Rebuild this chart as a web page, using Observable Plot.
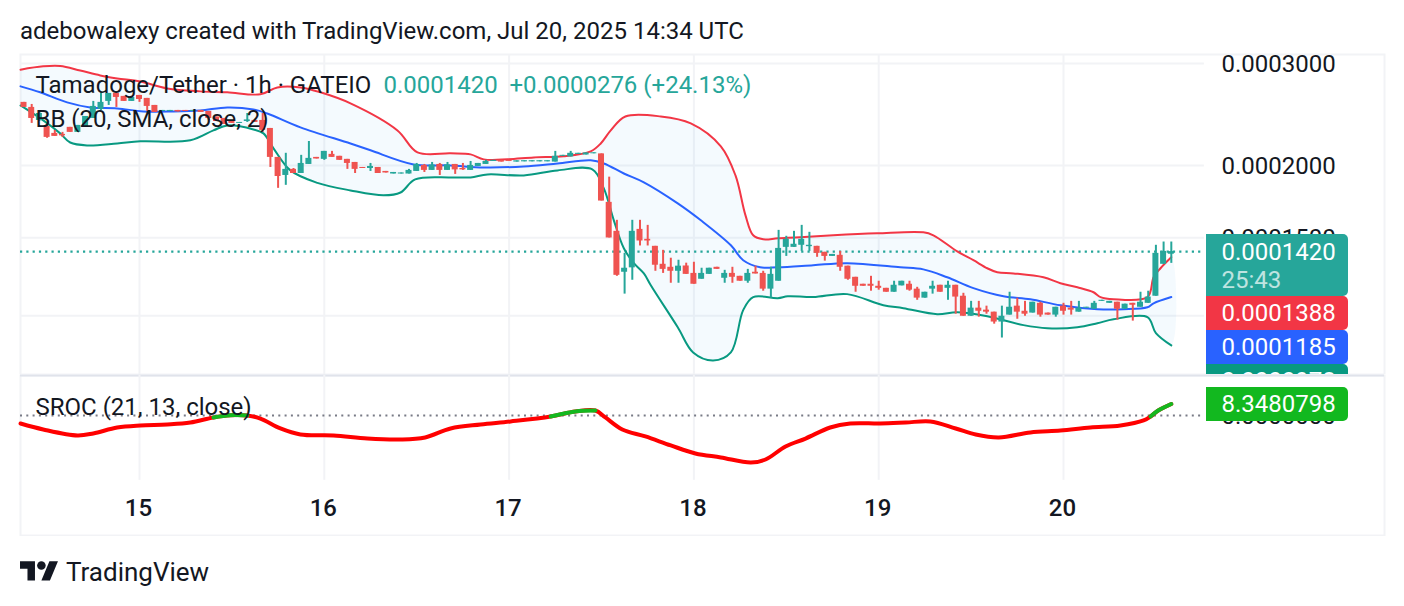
<!DOCTYPE html>
<html><head><meta charset="utf-8">
<script src="https://cdn.jsdelivr.net/npm/d3@7"></script>
<script src="https://cdn.jsdelivr.net/npm/@observablehq/plot@0.6"></script>
<style>
html,body{margin:0;padding:0;background:#fff;width:1404px;height:606px;overflow:hidden;font-family:Roboto,sans-serif;color:#131722}
.abs{position:absolute}
#title{left:20px;top:16px;font-size:24px;line-height:30px;white-space:nowrap}
#logo{left:20px;top:556.7px}
#brand{left:66px;top:556px;font-size:26px;line-height:32px;white-space:nowrap;color:#131722}
#clip{left:1206px;top:220px;width:142px;height:154px;overflow:hidden}
.badge{position:absolute;left:0;width:142px;color:#fff;font-size:24px;border-radius:0 5px 5px 0;box-sizing:border-box;padding-left:15.5px;white-space:nowrap}
.badge span{display:block;line-height:34px}
</style></head><body>
<div id="title" class="abs">adebowalexy created with TradingView.com, Jul 20, 2025 14:34 UTC</div>
<div id="price" class="abs" style="left:0;top:44px"></div>
<div id="sroc" class="abs" style="left:0;top:374px"></div>
<div id="clip" class="abs">
  <div class="badge" style="top:14px;height:62px;background:#26a69a"><span style="line-height:36px">0.0001420</span><span style="line-height:20px;opacity:.7">25:43</span></div>
  <div class="badge" style="top:76px;height:34px;background:#f23645"><span>0.0001388</span></div>
  <div class="badge" style="top:110px;height:34px;background:#2962ff"><span>0.0001185</span></div>
  <div class="badge" style="top:144px;height:34px;background:#089981"><span>0.0000978</span></div>
</div>
<div class="badge abs" style="left:1206px;top:387px;height:34px;background:#12b81f"><span>8.3480798</span></div>
<svg id="logo" class="abs" width="38.5" height="30" viewBox="0 0 36 28"><path fill="#131722" d="M14 22H7V11H0V4h14v18zM28 22h-8l7.5-18h8L28 22z"/><circle cx="20" cy="8" r="4" fill="#131722"/></svg>
<div id="brand" class="abs">TradingView</div>
<script>
// Prices are listed in units of 0.0000001. Candle n sits at firstHour + n, hours from Jul 15 00:00.
const unit = 1e-7;
const firstHour = -15;
const opens = [2570,2519,2392,2336,2272,2263,2327,2281,2327,2411,2499,2580,2663,2632,2580,2642,2611,2539,2479,2479,
2489,2489,2479,2489,2479,2425,2411,2382,2364,2382,2392,2392,2317,2065,1922,1969,1937,2008,2065,2049,
2090,2074,2049,2024,1984,1976,1984,1953,1933,1933,1933,1953,2000,1961,2008,1961,2008,1976,1961,1992,
2008,2032,2041,2041,2027,2029,2029,2029,2029,2027,2074,2069,2090,2085,2095,2094,1727,1539,1308,1331,
1551,1491,1450,1350,1334,1313,1341,1302,1272,1297,1334,1277,1302,1287,1262,1308,1302,1223,1262,1444,
1444,1456,1448,1450,1416,1393,1399,1340,1282,1247,1247,1237,1227,1208,1239,1247,1223,1180,1223,1242,
1227,1242,1189,1098,1134,1125,1116,1073,1103,1143,1120,1112,1156,1112,1103,1143,1134,1116,1134,1129,
1165,1156,1161,1129,1156,1138,1156,1189,1350,1405];
const closes = [2519,2411,2459,2236,2245,2250,2281,2345,2430,2529,2570,2663,2621,2580,2621,2600,2529,2469,2489,2489,
2474,2479,2489,2469,2411,2382,2354,2364,2373,2397,2373,2299,2065,1914,1969,1937,2016,2057,2052,2115,
2065,2041,2016,1969,1976,1992,1937,1941,1945,1941,1961,2008,1961,2004,1961,2004,1965,1965,2000,2016,
2032,2041,2027,2032,2037,2038,2038,2038,2038,2074,2082,2099,2099,2102,2103,1736,1499,1292,1329,1539,
1481,1481,1345,1323,1313,1340,1297,1247,1302,1329,1323,1302,1282,1262,1302,1299,1223,1297,1438,1491,
1462,1491,1456,1410,1393,1404,1334,1272,1237,1237,1237,1227,1208,1242,1262,1218,1180,1208,1237,1208,
1242,1185,1098,1134,1120,1116,1073,1098,1138,1116,1107,1161,1103,1103,1138,1120,1125,1134,1138,1156,
1170,1165,1129,1152,1147,1161,1185,1410,1421,1420];
const highs = [2570,2549,2479,2354,2299,2281,2327,2345,2430,2580,2670,2663,2663,2632,2621,2642,2611,2539,2489,2489,
2489,2489,2489,2489,2479,2425,2411,2382,2373,2459,2392,2459,2317,2065,2099,1976,2082,2200,2065,2115,
2115,2074,2049,2024,1984,2016,1984,1953,1945,1941,1969,2016,2008,2024,2016,2024,2008,2016,2032,2016,
2041,2041,2041,2041,2037,2038,2038,2038,2038,2115,2082,2115,2099,2102,2103,2094,1909,1608,1410,1608,
1608,1576,1450,1427,1383,1372,1356,1361,1329,1329,1334,1318,1334,1287,1323,1340,1313,1334,1545,1509,
1539,1576,1533,1450,1416,1404,1421,1340,1282,1247,1287,1262,1227,1262,1262,1262,1232,1208,1262,1242,
1262,1242,1203,1165,1165,1143,1116,1143,1208,1180,1165,1161,1161,1112,1138,1156,1165,1165,1138,1165,
1170,1165,1161,1152,1156,1208,1213,1456,1475,1475];
const lows = [2519,2364,2382,2228,2245,2236,2281,2281,2327,2411,2489,2539,2519,2580,2580,2570,2479,2469,2479,2479,
2474,2479,2479,2469,2392,2382,2354,2364,2364,2373,2373,2281,1984,1826,1848,1937,1937,2008,2052,2041,
2065,2041,1969,1937,1976,1953,1937,1941,1933,1933,1933,1953,1945,1961,1922,1961,1930,1961,1961,1992,
2008,2032,2027,2032,2027,2029,2029,2029,2029,2027,2074,2069,2090,2085,2095,1736,1499,1287,1199,1267,
1452,1452,1313,1302,1252,1252,1297,1247,1272,1297,1323,1252,1252,1262,1252,1299,1213,1180,1262,1393,
1444,1421,1421,1388,1367,1393,1313,1267,1208,1237,1213,1218,1208,1208,1239,1213,1170,1180,1199,1208,
1170,1107,1098,1098,1094,1107,1064,1007,1103,1085,1098,1112,1094,1103,1094,1103,1103,1116,1134,1129,
1165,1156,1081,1129,1077,1138,1156,1189,1350,1355];

const upperHours = [-15.45,-12.5,-10.3,-7.7,-5.1,-2.9,0.1,3.6,7.9,11.4,15.7,17.9,20.9,23.5,27.4,33.5,36.1,40.4,43,44.7,47.8,51.2,55.1,58.6,59.9,61.2,63.1,67.7,71.6,75.5,77.4,78.7,79.7,81,82.9,85.8,90.1,95.8,101.8,103.1,106.2,108.3,110.1,111.4,113.5,117.4,119.6,121.8,123.9,124.8,126.5,130.9,131.7,132.6,134];
const upperValues = [2927,2966,2970,2917,2861,2827,2792,2717,2685,2675,2654,2727,2727,2675,2560,2299,2107,2099,2090,2049,2049,2065,2074,2115,2183,2299,2430,2430,2364,2158,1922,1640,1515,1491,1497,1503,1515,1527,1533,1515,1421,1372,1329,1308,1302,1282,1252,1232,1208,1185,1175,1185,1282,1329,1388];
const basisHours = [-15.45,-12.9,-9.4,-6.4,-2.9,0.5,4.4,7.9,11.4,14.8,16.6,20.9,27.4,30,35.6,40.4,44.7,49.9,54.3,58.6,60.3,62.9,65.5,69.9,72.9,76.8,78.4,80.6,82.9,87.5,91.9,98.8,101.8,104.9,108.3,112.2,115.7,119.6,124.4,127.8,130.9,131.7,134];
const basisValues = [2739,2675,2570,2519,2509,2479,2479,2489,2519,2499,2459,2327,2182,2124,2008,2000,1984,1992,2016,2041,2016,1937,1870,1720,1608,1456,1372,1334,1334,1345,1356,1334,1323,1282,1228,1189,1175,1147,1129,1129,1138,1156,1185];
const lowerHours = [-15.45,-12.5,-10.3,-9,-6.8,-2.9,0.1,6.6,9.6,11.4,14.8,16.1,17.4,19.6,23.1,27.4,31.7,33.9,35.8,40.4,43,45.2,49.9,54.3,58.8,60.3,61.6,62.9,64.2,65.5,66.4,69.9,71.9,74.5,76.8,78.4,79.7,82.9,84.2,87.5,91.9,96.6,99.2,103.6,106.2,110.1,114.8,117.9,121.8,124.4,126.5,130.9,132,134];
const lowerValues = [2539,2392,2272,2191,2166,2183,2201,2210,2299,2345,2308,2272,2141,1961,1866,1811,1776,1796,1892,1907,1907,1930,1922,1961,1969,1826,1608,1439,1356,1302,1242,1051,951,921,951,1125,1185,1180,1189,1185,1199,1147,1134,1107,1116,1098,1060,1047,1051,1068,1085,1094,1027,978];

const srocHours = [-15.45,-12.5,-8.05,-6,-2.9,0.1,3.6,6.6,9.6,11.8,14,15.7,18.3,20.9,25.2,29.6,33.9,37.1,40.4,44.3,48.2,53.4,56.6,59.2,60.5,62.7,65.7,69,72.2,75.5,79.4,81.3,83.9,86.5,89.7,92.3,96.2,99.5,102.7,106,108.6,111.6,115.7,119.6,123.5,127.4,130.4,131.3,132.3,134];
const srocValues = [-5.8,-10.1,-14.5,-13,-8.7,-7.2,-6.5,-5.1,-1.4,0.2,0,-2.2,-9.4,-13.8,-14.5,-16.7,-17.4,-15.9,-9.4,-6.5,-4.3,-0.7,2.9,3.6,-1.4,-10.1,-15.2,-21.7,-27.5,-30.4,-34.1,-31.9,-22.5,-16.7,-8.7,-5.8,-5.8,-5.1,-4.3,-9.4,-13.8,-15.9,-12.3,-10.9,-8.7,-7.2,-3.6,-0.7,3.6,8.348];
const srocGreenRanges = [[9.6,14],[53.4,59.2],[131.3,134]];

const dayLabels = [15,16,17,18,19,20];
const dayHours = [0,24,48,72,96,120];
const priceTicks = [3000,2000,1500,1100];
const lastPrice = 1420;
const srocTicks = [0];

const xStart = -15.4545, xEnd = 161.688, paneEnd = 138.3;
const grid = "#f2f3f6", teal = "#26a69a", redC = "#ef5350", ink = "#131722", smooth = "catmull-rom";
const xScale = {domain:[xStart,xEnd], axis:null};

const candles = opens.map((o,i)=>({
  h:firstHour+i, o:o*unit, c:closes[i]*unit, hi:highs[i]*unit, lo:lows[i]*unit,
  color: closes[i]>=o ? teal : redC
}));
const band = (hs,vs)=>hs.map((h,i)=>({h,v:vs[i]*unit}));
const upper = band(upperHours,upperValues), basis = band(basisHours,basisValues), lower = band(lowerHours,lowerValues);
const fillPoly = [...upper, ...lower.slice().reverse()];

const legendRow = (text,dx,dy,fill)=>Plot.text([text],{text:d=>d,frameAnchor:"top-left",dx,dy,lineAnchor:"middle",fontSize:24,fill});

const price = Plot.plot({
  width:1404,height:330,marginLeft:20,marginRight:20,marginTop:10,marginBottom:0,
  style:{fontFamily:"Roboto, sans-serif",background:"transparent",color:ink},
  x:xScale,
  y:{type:"log",domain:[871e-7,3109e-7],axis:null},
  color:{type:"identity"},
  marks:[
    Plot.frame({stroke:grid,strokeWidth:2}),
    Plot.ruleY(priceTicks,{y:d=>d*unit,x1:()=>xStart,x2:()=>paneEnd,stroke:grid,strokeWidth:2}),
    Plot.ruleX(dayHours,{x:d=>d,stroke:grid,strokeWidth:2}),
    Plot.axisY(priceTicks.map(d=>d*unit),{anchor:"right",tickSize:0,tickPadding:-163,dy:1,tickFormat:d3.format(".7f"),fontSize:24,fill:ink,label:null}),
    Plot.line(fillPoly,{x:"h",y:"v",curve:smooth,fill:"rgba(33,150,243,0.05)",stroke:"none"}),
    Plot.ruleY([lastPrice*unit],{x1:()=>xStart,x2:()=>paneEnd,stroke:teal,strokeWidth:2.4,strokeDasharray:"2.2 4.1"}),
    Plot.line(upper,{x:"h",y:"v",curve:smooth,stroke:"#f23645",strokeWidth:2}),
    Plot.line(basis,{x:"h",y:"v",curve:smooth,stroke:"#2962ff",strokeWidth:2}),
    Plot.line(lower,{x:"h",y:"v",curve:smooth,stroke:"#089981",strokeWidth:2}),
    Plot.ruleX(candles,{x:"h",y1:"lo",y2:"hi",stroke:"color",strokeWidth:2}),
    Plot.rect(candles,{x1:d=>d.h-0.39,x2:d=>d.h+0.39,y1:"o",y2:"c",fill:"color"}),
    legendRow("Tamadoge/Tether · 1h · GATEIO",15,31,ink),
    legendRow("0.0001420",363,31,teal),
    legendRow("+0.0000276 (+24.13%)",489,31,teal),
    legendRow("BB (20, SMA, close, 2)",15,65,ink)
  ]
});
document.getElementById("price").append(price);

const srocAll = srocHours.map((h,i)=>({h,v:srocValues[i]}));

const sroc = Plot.plot({
  width:1404,height:162,marginLeft:20,marginRight:20,marginTop:1,marginBottom:1,
  style:{fontFamily:"Roboto, sans-serif",background:"transparent",color:ink},
  x:xScale,
  y:{domain:[-87,29],axis:null},
  marks:[
    Plot.frame({stroke:grid,strokeWidth:2}),
    Plot.ruleY([29],{stroke:"#e0e3eb",strokeWidth:2}),
    Plot.ruleX(dayHours,{x:d=>d,y1:()=>29,y2:()=>-47,stroke:grid,strokeWidth:2}),
    Plot.axisY(srocTicks,{anchor:"right",tickSize:0,tickPadding:-163,dy:1,tickFormat:d3.format(".7f"),fontSize:24,fill:ink,label:null}),
    Plot.ruleY(srocTicks,{x1:()=>xStart,x2:()=>paneEnd,stroke:"#787b86",strokeWidth:2,strokeDasharray:"2 4.3"}),
    Plot.line(srocAll,{x:"h",y:"v",curve:smooth,stroke:"#ff0000",strokeWidth:4,strokeLinecap:"round"}),
    ...srocGreenRanges.map(([a,b])=>Plot.line(srocAll.filter(d=>d.h>=a&&d.h<=b),{x:"h",y:"v",curve:smooth,stroke:"#14b81f",strokeWidth:4,strokeLinecap:"round"})),
    Plot.axisX(dayHours,{anchor:"bottom",tickSize:0,tickPadding:-37,dx:-1,tickFormat:(d,i)=>String(dayLabels[i]),fontSize:24,fontWeight:500,fill:ink,label:null}),
    legendRow("SROC (21, 13, close)",15,32,ink)
  ]
});
document.getElementById("sroc").append(sroc);
</script>
</body></html>
